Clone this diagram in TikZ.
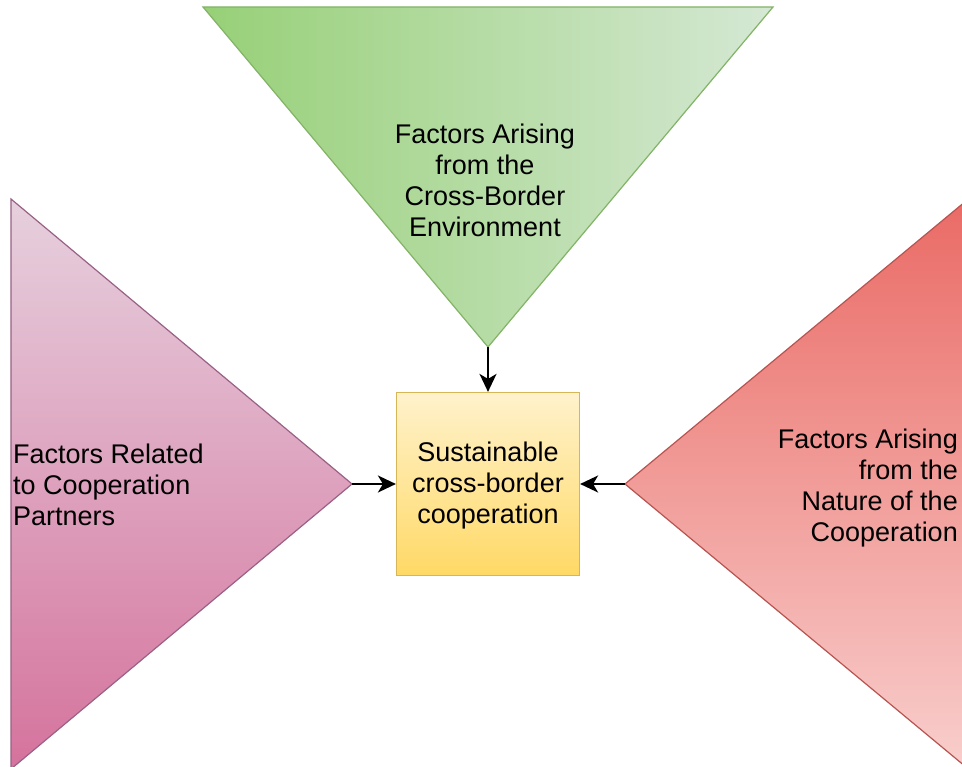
\documentclass[tikz,border=0pt]{standalone}
\usepackage{fontspec}
\setmainfont{Liberation Sans}
\usetikzlibrary{arrows.meta}
\definecolor{gL}{HTML}{97D077}
\definecolor{gR}{HTML}{D5E8D4}
\definecolor{gS}{HTML}{82B366}
\definecolor{pT}{HTML}{E6D0DE}
\definecolor{pB}{HTML}{D5739D}
\definecolor{pS}{HTML}{996185}
\definecolor{rT}{HTML}{EA6B66}
\definecolor{rB}{HTML}{F8CECC}
\definecolor{rS}{HTML}{B85450}
\definecolor{yT}{HTML}{FFF2CC}
\definecolor{yB}{HTML}{FFD966}
\definecolor{yS}{HTML}{D6B656}
\tikzset{
  lbl/.style={inner sep=0pt, font=\fontsize{27}{31}\selectfont, text=black},
  conn/.style={line width=2pt, -{Stealth[length=18pt,width=17pt,inset=5pt]}},
  tri/.style={line width=1.2pt}
}
\begin{document}
\begin{tikzpicture}[x=1pt,y=-1pt]
\path[use as bounding box, fill=white] (0,0) rectangle (962,767);
% top triangle
\path[tri, draw=gS, left color=gL, right color=gR] (203,7) -- (773,7) -- (488,347) -- cycle;
\coordinate (topapex) at (488,347);
% left triangle
\path[tri, draw=pS, top color=pT, bottom color=pB] (11,199) -- (352,484) -- (11,769) -- cycle;
\coordinate (leftapex) at (352,484);
% right triangle
\path[tri, draw=rS, top color=rT, bottom color=rB] (966,201) -- (625,484) -- (966,767) -- cycle;
\coordinate (rightapex) at (625,484);
% center box
\node[draw=yS, line width=1.2pt, top color=yT, bottom color=yB, minimum width=183pt, minimum height=183pt, inner sep=0pt] (box) at (488,484) {};
\node[lbl, align=center] (boxtxt) at (488,486) {Sustainable\\cross-border\\cooperation};
% labels
\node[lbl, align=center] (toptxt) at (485,180) {Factors Arising\\from the\\Cross-Border\\Environment};
\node[lbl, align=left, anchor=west] (lefttxt) at (13,485) {Factors Related\\to Cooperation\\Partners};
\node[lbl, align=right, anchor=east] (righttxt) at (958,488) {Factors Arising\\from the\\Nature of the\\Cooperation};
% connectors
\draw[conn] (topapex) -- (box.north);
\draw[conn] (leftapex) -- (box.west);
\draw[conn] (rightapex) -- (box.east);
\end{tikzpicture}
\end{document}
